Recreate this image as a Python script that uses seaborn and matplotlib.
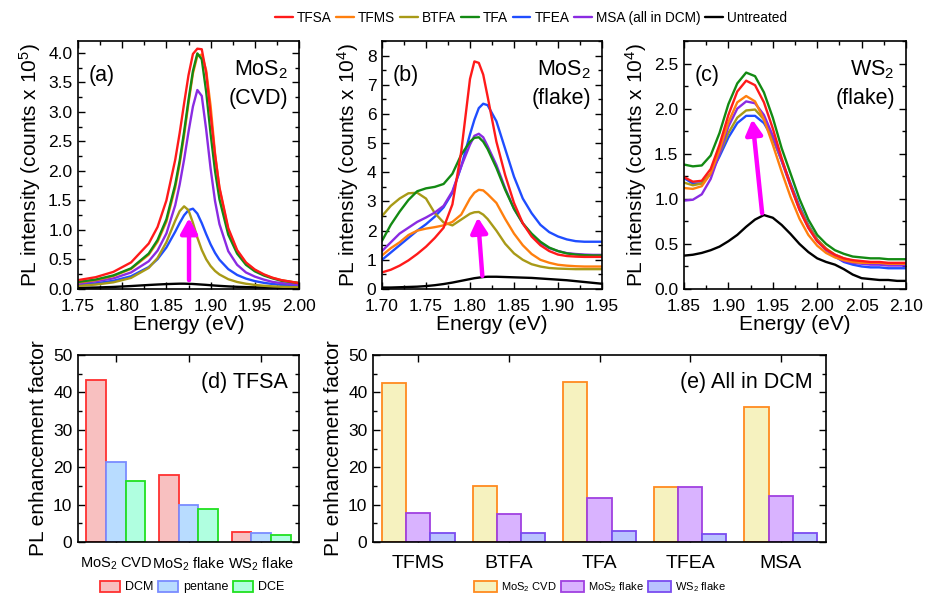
import numpy as np
import pandas as pd
import matplotlib
matplotlib.use("Agg")
import matplotlib.pyplot as plt
import seaborn as sns
from matplotlib.ticker import AutoMinorLocator, MultipleLocator
from matplotlib.lines import Line2D
from matplotlib.patches import Patch

# ---------------- data ----------------
treatments = ["TFSA", "TFMS", "BTFA", "TFA", "TFEA", "MSA", "Untreated"]
legend_labels = ["TFSA", "TFMS", "BTFA", "TFA", "TFEA", "MSA (all in DCM)", "Untreated"]

# (a) MoS2 CVD, intensity in units of 1e5 counts
energy_a = [1.75, 1.77, 1.79, 1.81, 1.83, 1.84, 1.85, 1.86, 1.865, 1.87, 1.875, 1.88, 1.885,
            1.89, 1.895, 1.90, 1.905, 1.91, 1.92, 1.93, 1.94, 1.95, 1.96, 1.97, 1.98, 2.00]
tfsa_a = [0.15, 0.20, 0.29, 0.45, 0.77, 1.05, 1.50, 2.19, 2.64, 3.14, 3.62, 3.98, 4.07,
          4.06, 3.66, 2.96, 2.27, 1.72, 1.03, 0.66, 0.45, 0.33, 0.25, 0.19, 0.15, 0.10]
tfms_a = [0.11, 0.15, 0.22, 0.34, 0.58, 0.80, 1.14, 1.72, 2.12, 2.60, 3.15, 3.65, 3.95,
          3.97, 3.70, 3.10, 2.30, 1.70, 1.00, 0.64, 0.44, 0.32, 0.24, 0.19, 0.15, 0.10]
btfa_a = [0.053, 0.075, 0.113, 0.188, 0.357, 0.525, 0.793, 1.157, 1.318, 1.40, 1.335, 1.12, 0.872,
          0.662, 0.504, 0.389, 0.306, 0.246, 0.166, 0.119, 0.089, 0.069, 0.055, 0.045, 0.038, 0.028]
tfa_a = [0.12, 0.16, 0.23, 0.35, 0.60, 0.83, 1.18, 1.77, 2.17, 2.66, 3.20, 3.69, 3.99,
         3.89, 3.34, 2.63, 2.00, 1.52, 0.92, 0.60, 0.41, 0.30, 0.23, 0.18, 0.14, 0.10]
tfea_a = [0.070, 0.096, 0.139, 0.216, 0.371, 0.506, 0.703, 0.971, 1.117, 1.248, 1.336, 1.36, 1.277,
          1.116, 0.929, 0.756, 0.612, 0.496, 0.336, 0.238, 0.176, 0.134, 0.105, 0.085, 0.070, 0.049]
msa_a = [0.09, 0.13, 0.18, 0.28, 0.47, 0.65, 0.94, 1.42, 1.77, 2.19, 2.66, 3.09, 3.37,
         3.27, 2.70, 2.04, 1.49, 1.10, 0.64, 0.41, 0.28, 0.21, 0.16, 0.12, 0.10, 0.07]
untreated_a = [0.02, 0.025, 0.035, 0.05, 0.068, 0.076, 0.083, 0.088, 0.09, 0.09, 0.088, 0.085, 0.08,
               0.075, 0.07, 0.064, 0.058, 0.053, 0.044, 0.037, 0.032, 0.028, 0.025, 0.022, 0.02, 0.017]

# (b) MoS2 flake, intensity in units of 1e4 counts
energy_b = [1.70, 1.71, 1.72, 1.73, 1.74, 1.75, 1.76, 1.77, 1.78, 1.79, 1.80, 1.805, 1.81, 1.815,
            1.82, 1.83, 1.84, 1.85, 1.86, 1.87, 1.88, 1.89, 1.90, 1.91, 1.92, 1.93, 1.94, 1.95]
tfsa_b = [0.57, 0.66, 0.80, 0.98, 1.20, 1.45, 1.75, 2.10, 2.90, 4.70, 7.20, 7.80, 7.75, 7.35,
          6.60, 5.05, 3.90, 2.95, 2.25, 1.80, 1.50, 1.30, 1.18, 1.13, 1.11, 1.10, 1.10, 1.10]
tfms_b = [1.15, 1.40, 1.60, 1.85, 2.00, 2.07, 2.12, 2.18, 2.30, 2.55, 3.10, 3.30, 3.40, 3.38,
          3.25, 2.95, 2.40, 1.90, 1.50, 1.20, 1.00, 0.90, 0.83, 0.80, 0.78, 0.77, 0.77, 0.77]
btfa_b = [2.50, 2.85, 3.10, 3.28, 3.30, 3.10, 2.60, 2.28, 2.18, 2.38, 2.58, 2.63, 2.64, 2.55,
          2.40, 2.00, 1.55, 1.22, 1.00, 0.85, 0.77, 0.72, 0.70, 0.69, 0.68, 0.68, 0.68, 0.68]
tfa_b = [1.65, 2.20, 2.65, 3.05, 3.35, 3.45, 3.50, 3.60, 3.95, 4.60, 5.05, 5.18, 5.20, 5.05,
         4.80, 4.15, 3.40, 2.75, 2.25, 1.90, 1.62, 1.42, 1.30, 1.22, 1.18, 1.16, 1.15, 1.15]
tfea_b = [1.00, 1.25, 1.50, 1.75, 2.00, 2.22, 2.48, 2.80, 3.30, 4.20, 5.30, 5.80, 6.20, 6.35,
          6.30, 5.75, 4.80, 3.85, 3.10, 2.60, 2.20, 1.95, 1.80, 1.70, 1.64, 1.62, 1.62, 1.62]
msa_b = [1.30, 1.60, 1.90, 2.10, 2.30, 2.45, 2.62, 2.85, 3.35, 4.20, 4.95, 5.25, 5.32, 5.20,
         4.90, 4.25, 3.45, 2.75, 2.25, 1.85, 1.58, 1.40, 1.30, 1.23, 1.20, 1.18, 1.17, 1.17]
untreated_b = [0.05, 0.05, 0.06, 0.07, 0.08, 0.10, 0.13, 0.17, 0.22, 0.28, 0.34, 0.37, 0.39, 0.41,
               0.42, 0.42, 0.41, 0.40, 0.39, 0.38, 0.36, 0.34, 0.32, 0.30, 0.27, 0.24, 0.21, 0.18]

# (c) WS2 flake, intensity in units of 1e4 counts
energy_c = [1.85, 1.86, 1.87, 1.88, 1.89, 1.90, 1.91, 1.92, 1.93, 1.94, 1.95, 1.96, 1.97,
            1.98, 1.99, 2.00, 2.01, 2.02, 2.03, 2.04, 2.05, 2.06, 2.07, 2.08, 2.09, 2.10]
tfsa_c = [1.24, 1.19, 1.20, 1.33, 1.60, 1.93, 2.19, 2.31, 2.26, 2.07, 1.78, 1.45, 1.15,
          0.88, 0.68, 0.53, 0.44, 0.38, 0.34, 0.32, 0.31, 0.30, 0.30, 0.29, 0.29, 0.29]
tfms_c = [1.12, 1.11, 1.14, 1.28, 1.54, 1.85, 2.07, 2.14, 2.08, 1.88, 1.60, 1.30, 1.02,
          0.78, 0.60, 0.48, 0.40, 0.35, 0.32, 0.30, 0.29, 0.29, 0.29, 0.28, 0.28, 0.28]
btfa_c = [1.18, 1.15, 1.17, 1.28, 1.50, 1.73, 1.90, 1.98, 1.99, 1.88, 1.67, 1.42, 1.15,
          0.90, 0.70, 0.55, 0.45, 0.38, 0.34, 0.31, 0.30, 0.29, 0.29, 0.28, 0.28, 0.28]
tfa_c = [1.38, 1.36, 1.37, 1.48, 1.73, 2.05, 2.28, 2.40, 2.36, 2.18, 1.90, 1.56, 1.28,
         1.00, 0.77, 0.60, 0.50, 0.43, 0.39, 0.36, 0.35, 0.34, 0.34, 0.33, 0.33, 0.33]
tfea_c = [1.23, 1.17, 1.17, 1.28, 1.47, 1.68, 1.84, 1.92, 1.92, 1.84, 1.67, 1.43, 1.17,
          0.92, 0.71, 0.55, 0.44, 0.36, 0.30, 0.27, 0.25, 0.24, 0.24, 0.23, 0.23, 0.23]
msa_c = [0.98, 0.99, 1.05, 1.22, 1.50, 1.80, 2.00, 2.08, 2.06, 1.93, 1.70, 1.42, 1.14,
         0.88, 0.68, 0.53, 0.43, 0.36, 0.31, 0.29, 0.28, 0.27, 0.27, 0.26, 0.26, 0.26]
untreated_c = [0.37, 0.38, 0.40, 0.43, 0.47, 0.53, 0.60, 0.69, 0.77, 0.82, 0.79, 0.71, 0.61,
               0.50, 0.41, 0.34, 0.30, 0.27, 0.22, 0.16, 0.12, 0.11, 0.10, 0.10, 0.09, 0.09]

# (d) TFSA enhancement factor in different solvents
samples_d = ["MoS$_2$ CVD", "MoS$_2$ flake", "WS$_2$ flake"]
solvents_d = ["DCM", "pentane", "DCE"]
dcm_d = [43.4, 17.8, 2.8]
pentane_d = [21.4, 9.8, 2.5]
dce_d = [16.4, 8.9, 2.0]

# (e) enhancement factor, all in DCM
acids_e = ["TFMS", "BTFA", "TFA", "TFEA", "MSA"]
samples_e = ["MoS$_2$ CVD", "MoS$_2$ flake", "WS$_2$ flake"]
mos2_cvd_e = [42.4, 14.9, 42.8, 14.6, 36.2]
mos2_flake_e = [7.8, 7.6, 11.8, 14.6, 12.2]
ws2_flake_e = [2.5, 2.4, 2.9, 2.2, 2.5]

# ---------------- style ----------------
sns.set_style("ticks")
plt.rcParams["font.family"] = ["Liberation Sans", "DejaVu Sans"]
plt.rcParams["mathtext.fontset"] = "custom"
plt.rcParams["mathtext.rm"] = "Liberation Sans"
plt.rcParams["mathtext.it"] = "Liberation Sans:italic"
plt.rcParams["mathtext.bf"] = "Liberation Sans:bold"
plt.rcParams["text.color"] = "black"
plt.rcParams["axes.labelcolor"] = "black"

line_colors = {"TFSA": "#ff1a1a", "TFMS": "#ff7f0e", "BTFA": "#a89a17", "TFA": "#138a13",
               "TFEA": "#1f4dff", "MSA": "#8a2be2", "Untreated": "#000000"}
draw_order = ["Untreated", "TFEA", "BTFA", "MSA", "TFMS", "TFA", "TFSA"]

W, H = 925, 593
fig = plt.figure(figsize=(W / 100, H / 100), dpi=100)


def px_axes(l, t, r, b):
    return fig.add_axes([l / W, 1 - b / H, (r - l) / W, (b - t) / H])


def style(ax):
    ax.tick_params(which="both", direction="in", top=True, right=True, colors="black",
                   labelsize=12.5, width=1.0)
    ax.tick_params(which="major", length=5)
    ax.tick_params(which="minor", length=3)
    ax.tick_params(axis="x", pad=7)
    ax.tick_params(axis="y", pad=4)
    for s in ax.spines.values():
        s.set_linewidth(1.2)
        s.set_color("black")


def long_df(x, cols):
    recs = []
    for name, vals in zip(treatments, cols):
        for e, v in zip(x, vals):
            recs.append((e, v, name))
    return pd.DataFrame(recs, columns=["Energy", "Intensity", "Treatment"])


def spectrum_panel(ax, x, cols, xlim, ylim, xmaj, ymaj, ylabel, tag, title1, title2, arrow):
    df = long_df(x, cols)
    sns.lineplot(data=df, x="Energy", y="Intensity", hue="Treatment", hue_order=draw_order,
                 palette=line_colors, estimator=None, sort=True, lw=1.7, legend=False, ax=ax)
    ax.set_xlim(*xlim)
    ax.set_ylim(*ylim)
    ax.xaxis.set_major_locator(MultipleLocator(xmaj))
    ax.xaxis.set_minor_locator(AutoMinorLocator(2))
    ax.yaxis.set_major_locator(MultipleLocator(ymaj))
    ax.yaxis.set_minor_locator(AutoMinorLocator(2))
    style(ax)
    ax.set_xlabel("Energy (eV)", fontsize=15, labelpad=1)
    ax.set_ylabel(ylabel, fontsize=15, labelpad=4)
    ax.text(0.05, 0.86, tag, transform=ax.transAxes, fontsize=15.5, ha="left", va="center")
    ax.text(0.95, 0.885, title1, transform=ax.transAxes, fontsize=15.5, ha="right", va="center")
    ax.text(0.95, 0.77, title2, transform=ax.transAxes, fontsize=15.5, ha="right", va="center")
    (x0, y0), (x1, y1) = arrow
    ax.annotate("", xy=(x1, y1), xytext=(x0, y0),
                arrowprops=dict(arrowstyle="-|>,head_length=0.9,head_width=0.5",
                                color="#ff00ff", lw=3.2, shrinkA=0, shrinkB=0), zorder=5)


ax_a = px_axes(78, 41, 299, 289)
spectrum_panel(ax_a, energy_a,
               [tfsa_a, tfms_a, btfa_a, tfa_a, tfea_a, msa_a, untreated_a],
               (1.75, 2.00), (0, 4.2), 0.05, 0.5,
               "PL intensity (counts x 10$^5$)", "(a)", "MoS$_2$", "(CVD)",
               ((1.8756, 0.15), (1.8756, 1.2)))

ax_b = px_axes(382, 41, 602, 289)
spectrum_panel(ax_b, energy_b,
               [tfsa_b, tfms_b, btfa_b, tfa_b, tfea_b, msa_b, untreated_b],
               (1.70, 1.95), (0, 8.5), 0.05, 1,
               "PL intensity (counts x 10$^4$)", "(b)", "MoS$_2$", "(flake)",
               ((1.814, 0.45), (1.809, 2.45)))

ax_c = px_axes(684, 41, 906, 289)
spectrum_panel(ax_c, energy_c,
               [tfsa_c, tfms_c, btfa_c, tfa_c, tfea_c, msa_c, untreated_c],
               (1.85, 2.10), (0, 2.75), 0.05, 0.5,
               "PL intensity (counts x 10$^4$)", "(c)", "WS$_2$", "(flake)",
               ((1.938, 0.84), (1.927, 1.88)))

# top legend
handles = [Line2D([], [], color=line_colors[t], lw=1.7) for t in treatments]
fig.legend(handles, legend_labels, loc="center", bbox_to_anchor=(531 / W, 1 - 18 / H), ncol=7,
           frameon=False, fontsize=9.8, handlelength=1.3, handletextpad=0.3,
           columnspacing=0.35, borderaxespad=0)

# ---------------- (d) ----------------
d_face = {"DCM": "#f8c0c0", "pentane": "#b8dcff", "DCE": "#b0ffe0"}
d_edge = {"DCM": "#ff3030", "pentane": "#7a8cff", "DCE": "#20e020"}
df_d = pd.DataFrame({
    "Sample": samples_d * 3,
    "Factor": dcm_d + pentane_d + dce_d,
    "Solvent": [s for s in solvents_d for _ in samples_d],
})
ax_d = px_axes(78, 355, 299, 542)
sns.barplot(data=df_d, x="Sample", y="Factor", hue="Solvent", order=samples_d,
            hue_order=solvents_d, palette=d_face, saturation=1, width=0.81, legend=False,
            ax=ax_d)
for cont, s in zip(ax_d.containers, solvents_d):
    for bar in cont:
        bar.set_edgecolor(d_edge[s])
        bar.set_linewidth(1.3)
ax_d.set_xlim(-0.52, 2.52)
ax_d.set_ylim(0, 50)
ax_d.yaxis.set_major_locator(MultipleLocator(10))
ax_d.yaxis.set_minor_locator(AutoMinorLocator(2))
style(ax_d)
ax_d.tick_params(axis="x", labelsize=10.5, pad=10)
ax_d.set_xlabel("")
ax_d.set_ylabel("PL enhancement factor", fontsize=15, labelpad=4)
ax_d.text(0.95, 0.855, "(d) TFSA", transform=ax_d.transAxes, fontsize=15.5,
          ha="right", va="center")
fig.legend([Patch(facecolor=d_face[s], edgecolor=d_edge[s], lw=1.3) for s in solvents_d],
           solvents_d, loc="center", bbox_to_anchor=(192 / W, 1 - 587 / H), ncol=3,
           frameon=False, fontsize=9, handlelength=1.6, handleheight=1.0,
           handletextpad=0.4, columnspacing=0.35, borderaxespad=0)

# ---------------- (e) ----------------
e_face = {"MoS$_2$ CVD": "#f6f2bf", "MoS$_2$ flake": "#d9b3ff", "WS$_2$ flake": "#b9c3ff"}
e_edge = {"MoS$_2$ CVD": "#ff8a1f", "MoS$_2$ flake": "#a040e0", "WS$_2$ flake": "#7a4cf0"}
df_e = pd.DataFrame({
    "Acid": acids_e * 3,
    "Factor": mos2_cvd_e + mos2_flake_e + ws2_flake_e,
    "Sample": [s for s in samples_e for _ in acids_e],
})
ax_e = px_axes(373, 355, 826, 542)
sns.barplot(data=df_e, x="Acid", y="Factor", hue="Sample", order=acids_e,
            hue_order=samples_e, palette=e_face, saturation=1, width=0.8, legend=False,
            ax=ax_e)
for cont, s in zip(ax_e.containers, samples_e):
    for bar in cont:
        bar.set_edgecolor(e_edge[s])
        bar.set_linewidth(1.3)
ax_e.set_xlim(-0.5, 4.5)
ax_e.set_ylim(0, 50)
ax_e.yaxis.set_major_locator(MultipleLocator(10))
ax_e.yaxis.set_minor_locator(AutoMinorLocator(2))
style(ax_e)
ax_e.tick_params(axis="x", labelsize=14, pad=9)
ax_e.set_xlabel("")
ax_e.set_ylabel("PL enhancement factor", fontsize=15, labelpad=4)
ax_e.text(0.97, 0.855, "(e) All in DCM", transform=ax_e.transAxes, fontsize=15.5,
          ha="right", va="center")
fig.legend([Patch(facecolor=e_face[s], edgecolor=e_edge[s], lw=1.3) for s in samples_e],
           samples_e, loc="center", bbox_to_anchor=(600 / W, 1 - 587 / H), ncol=3,
           frameon=False, fontsize=8, handlelength=2.1, handleheight=1.2,
           handletextpad=0.35, columnspacing=0.35, borderaxespad=0)

fig.savefig("out.png", dpi=100)
